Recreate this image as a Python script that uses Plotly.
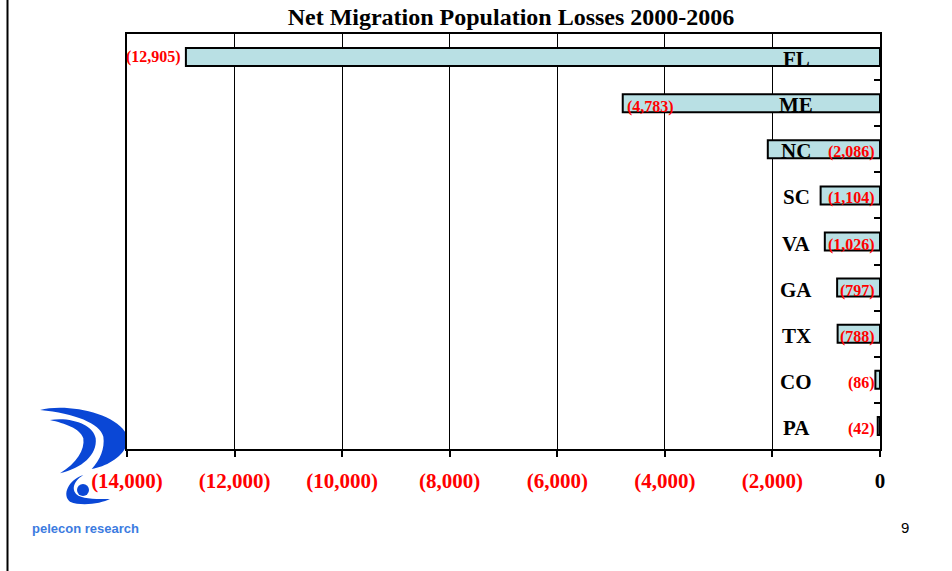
import plotly.graph_objects as go

# data
states = ["FL", "ME", "NC", "SC", "VA", "GA", "TX", "CO", "PA"]
losses = [-12905, -4783, -2086, -1104, -1026, -797, -788, -86, -42]
tick_vals = [-14000, -12000, -10000, -8000, -6000, -4000, -2000, 0]
tick_text = ["(14,000)", "(12,000)", "(10,000)", "(8,000)", "(6,000)", "(4,000)", "(2,000)", "0"]

W, H = 952, 571
L, R, T, B = 127, 72, 34, 122
PW, PH = W - L - R, H - T - B


def px(x):
    return (x - L) / PW


def py(y):
    return (H - B - y) / PH


def zpath(cmds):
    # logo drawn from a 3x crop starting at (25, 395)
    out = []
    for c in cmds:
        if isinstance(c, str):
            out.append(c)
        else:
            x, y = c
            out.append("%.4f,%.4f" % (px(25 + x / 3), py(395 + y / 3)))
    return " ".join(out)


serif = "Liberation Serif"
red = "#FF0000"

fig = go.Figure(
    go.Bar(
        y=states,
        x=losses,
        orientation="h",
        width=0.39,
        marker=dict(color="#B9E0E4", line=dict(color="black", width=2)),
        hoverinfo="x+y",
    )
)

# value labels
anns = []
for i, (s, v) in enumerate(zip(states, losses)):
    lab = "({:,})".format(abs(v))
    if i == 0:
        anns.append(dict(x=v, y=s, text=lab, xanchor="right", xshift=-3, yshift=0))
    elif i == 1:
        anns.append(dict(x=v, y=s, text=lab, xanchor="left", xshift=2, yshift=-4))
    else:
        anns.append(dict(x=0, y=s, text=lab, xanchor="right", xshift=-3, yshift=-3))
for a in anns:
    a.update(xref="x", yref="y", showarrow=False,
             font=dict(family=serif, size=16, color=red, weight="bold"))
    fig.add_annotation(**a)

# state names
for s in states:
    fig.add_annotation(x=px(796), xref="paper", xanchor="center", y=s, yref="y", text=s,
                       showarrow=False, yshift=-2,
                       font=dict(family=serif, size=21, color="black", weight="bold"))

# page number + logo text
fig.add_annotation(x=px(905), y=py(527), xref="paper", yref="paper", xanchor="center",
                   yanchor="middle", text="9", showarrow=False,
                   font=dict(family="Liberation Sans", size=15, color="black"))
fig.add_annotation(x=px(85), y=py(528), xref="paper", yref="paper", xanchor="center",
                   yanchor="middle", text="<b>pelecon research</b>", showarrow=False,
                   font=dict(family="Liberation Sans", size=13, color="#3C7BE0"))

blue = "#0A47D6"
fig.add_shape(type="path", xref="paper", yref="paper", layer="below", line_width=0, fillcolor=blue,
              path=zpath(["M", (45, 45), "C", (120, 25), (260, 50), (300, 110), "L", (305, 150),
                          "C", (290, 190), (240, 215), (200, 222), "C", (225, 195), (240, 160), (235, 125),
                          "C", (225, 85), (150, 55), (45, 45), "Z"]))
fig.add_shape(type="path", xref="paper", yref="paper", layer="below", line_width=0, fillcolor=blue,
              path=zpath(["M", (75, 75), "C", (140, 65), (205, 90), (212, 130), "C", (218, 180), (170, 220),
                          (105, 235), "C", (155, 205), (180, 165), (175, 130), "C", (165, 100), (120, 85),
                          (75, 75), "Z"]))
fig.add_shape(type="path", xref="paper", yref="paper", layer="below", line_width=0, fillcolor=blue,
              path=zpath(["M", (175, 240), "C", (130, 255), (110, 300), (135, 320), "C", (170, 335),
                          (230, 325), (255, 312), "C", (220, 312), (180, 312), (160, 302), "C", (140, 290),
                          (140, 262), (175, 240), "Z"]))
fig.add_shape(type="circle", xref="paper", yref="paper", layer="below", line_width=0, fillcolor=blue,
              x0=px(77), x1=px(89), y0=py(496), y1=py(484))

# page border on the left
fig.add_shape(type="line", xref="paper", yref="paper", x0=px(7.5), x1=px(7.5), y0=py(571), y1=py(0),
              line=dict(color="black", width=2))

tt = ["<span style='color:black'>%s</span>" % t if t == "0" else t for t in tick_text]

fig.update_layout(
    width=W,
    height=H,
    margin=dict(l=L, r=R, t=T, b=B),
    paper_bgcolor="white",
    plot_bgcolor="white",
    showlegend=False,
    title=dict(text="Net Migration Population Losses 2000-2006", x=511 / W, xanchor="center",
               y=1 - 17 / H, yanchor="middle", yref="container",
               font=dict(family=serif, size=24, color="black", weight="bold")),
    xaxis=dict(range=[-14000, 0], tickvals=tick_vals, ticktext=tt, ticks="outside", ticklen=6,
               tickwidth=2, tickcolor="black", showgrid=True, gridcolor="black", gridwidth=1,
               zeroline=False, showline=True, linecolor="black", linewidth=2, mirror=True,
               ticklabelstandoff=6,
               tickfont=dict(family=serif, size=21, color=red, weight="bold")),
    yaxis=dict(type="category", categoryorder="array", categoryarray=states, autorange="reversed",
               side="right", ticks="inside", tickson="boundaries", ticklen=6, tickwidth=2,
               tickcolor="black", showticklabels=False, showgrid=False, zeroline=False,
               showline=True, linecolor="black", linewidth=2, mirror=True),
)

# the page has a default 8px body margin; drop it so the figure fills the window
fig.write_html("out.html", config={"displayModeBar": False},
               post_script="document.body.style.margin='0px';document.body.style.overflow='hidden';")
